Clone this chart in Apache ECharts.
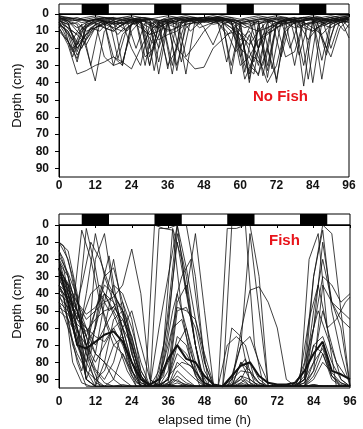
<!DOCTYPE html>
<html>
<head>
<meta charset="utf-8">
<script src="https://cdn.jsdelivr.net/npm/echarts@6/dist/echarts.min.js"></script>
<style>
  html, body { margin: 0; padding: 0; background: #fff; }
  #chart { width: 363px; height: 429px; }
</style>
</head>
<body>
<div id="chart"></div>
<script>
// sampling times (h)
const hoursA = [0,3,6,9,12,15,18,21,24,27,30,33,36,39,42,45,48,51,54,57,60,63,66,69,72,75,78,81,84,87,90,93,96]
const hoursB = [0,1.5,4.5,7.5,10.5,13.5,16.5,19.5,22.5,25.5,28.5,31.5,34.5,37.5,40.5,43.5,46.5,49.5,52.5,55.5,58.5,61.5,64.5,67.5,70.5,73.5,76.5,79.5,82.5,85.5,88.5,91.5,94.5,96]

// dark periods (h)
const nights = [[7.5,16.5],[31.5,40.5],[55.5,64.5],[79.5,88.5]]

const xTicks = [0,12,24,36,48,60,72,84,96]
const yTicks = [0,10,20,30,40,50,60,70,80,90]

// depth (cm) per individual, no fish
const noFishA = [
  [2,5,22,8,3,2,4,6,3,2,3,20,5,3,2,4,3,2,3,6,4,38,6,3,5,4,3,2,40,5,3,2,1],
  [5,12,28,6,4,3,2,30,5,3,6,4,32,4,3,2,4,3,2,35,5,4,3,3,40,4,3,2,3,27,4,3,2],
  [8,18,35,33,30,28,25,28,32,20,10,5,4,6,3,2,5,4,3,4,30,25,36,5,3,4,30,3,2,4,3,2,8],
  [3,4,6,20,39,10,5,3,2,4,30,6,3,2,4,3,2,3,4,3,5,6,4,37,6,3,4,4,3,2,20,4,3],
  [1,3,2,4,3,5,25,30,6,4,3,35,6,4,2,3,2,1,2,4,20,8,4,30,5,3,2,42,4,3,5,4,2],
  [4,6,18,5,3,4,3,4,3,3,25,8,30,20,26,32,31,20,15,10,5,4,3,2,3,4,3,2,3,4,2,3,2],
  [2,3,4,3,2,3,2,3,2,4,3,4,3,2,25,18,10,5,3,2,5,8,10,4,3,2,4,3,2,3,4,2,14],
  [6,10,24,15,8,5,30,12,6,4,5,28,4,33,5,3,4,3,2,6,12,30,35,20,38,10,5,4,3,3,2,4,3],
  [3,2,3,4,3,2,3,2,3,2,3,4,2,3,2,3,2,3,2,3,4,3,2,3,2,3,2,3,2,3,2,1,1],
  [10,16,26,8,5,25,30,28,10,4,3,6,5,30,8,4,3,2,3,4,6,40,8,33,6,25,22,4,3,38,6,4,5],
  [2,4,8,5,3,4,6,5,4,3,20,4,5,3,4,3,2,3,4,30,6,4,20,5,4,3,5,30,4,6,3,2,2],
  [5,8,12,18,8,6,4,5,20,30,6,8,5,4,3,2,8,18,6,4,25,12,30,8,5,4,3,2,3,14,25,8,3],
  [1,2,3,2,1,2,3,2,1,2,3,2,1,2,1,2,3,2,1,2,3,2,1,2,1,2,3,2,1,2,1,2,1],
  [4,6,5,10,8,5,4,6,3,5,30,5,4,6,35,4,3,5,4,3,8,35,6,4,8,5,4,6,5,4,3,5,4],
  [3,5,20,12,6,8,10,6,4,3,4,8,5,20,4,3,2,4,3,5,10,15,25,40,30,8,5,4,3,5,4,3,2],
  [4,8,12,6,5,8,10,6,5,8,12,6,10,8,6,5,4,6,5,8,12,18,10,8,6,5,8,6,10,6,8,5,4],
  [6,10,20,12,8,6,8,10,6,5,8,15,12,10,6,5,4,3,5,10,20,25,15,12,8,6,4,5,8,12,6,4,3],
  [2,4,10,15,6,4,8,4,3,5,12,10,6,8,4,3,2,3,4,8,15,10,20,10,6,4,3,8,10,6,4,3,2]
]
const noFishB = [
  [3,6,25,10,5,4,3,26,8,4,3,33,5,3,28,4,5,3,2,3,5,30,35,6,32,5,3,24,6,3,6,4,3,2],
  [5,8,15,6,30,5,4,8,5,4,30,4,6,35,4,3,2,3,4,28,6,34,4,36,8,4,5,3,38,5,24,4,10,6],
  [2,3,4,3,4,3,2,3,4,3,2,3,4,3,2,3,4,3,2,3,4,3,5,4,3,2,3,4,3,2,3,4,3,2],
  [6,10,22,8,6,4,5,6,4,20,5,8,6,30,5,4,6,2,5,12,10,38,25,30,6,4,20,4,6,5,20,6,4,3],
  [1,2,3,5,4,3,6,4,3,5,4,6,3,4,5,3,8,6,4,3,5,8,6,5,4,6,3,8,5,4,6,3,4,2],
  [8,12,20,15,8,10,4,6,10,3,25,20,4,6,3,10,5,4,3,5,4,6,4,3,4,25,5,4,3,5,3,4,3,2],
  [3,5,12,20,8,5,6,12,6,4,10,18,8,10,5,4,3,4,5,10,22,15,28,12,10,6,5,6,15,8,6,4,3,2]
]

// depth (cm) per individual, fish present
const fishA = [
  [10,15,40,75,92,94,94,93,94,94,94,94,93,94,94,94,94,93,94,94,94,93,94,94,94,94,94,94,93,94,94,94,94],
  [25,35,50,70,60,40,45,60,80,92,94,93,90,70,75,85,93,94,94,93,88,90,94,94,94,94,93,90,70,65,80,90,94],
  [30,45,60,85,94,80,55,50,65,88,94,94,92,50,48,60,85,94,94,94,80,85,92,94,94,94,94,92,85,70,88,93,94],
  [20,50,70,40,5,30,45,60,80,94,94,93,60,5,30,70,94,94,94,94,94,94,94,94,94,94,94,90,50,20,45,60,94],
  [35,40,55,2,25,55,70,75,88,94,94,94,93,94,93,94,94,94,94,94,93,94,94,94,94,94,94,94,93,94,94,94,94],
  [40,45,70,85,20,5,40,60,70,90,94,94,94,88,92,94,94,94,94,93,90,94,94,94,94,94,94,94,94,94,94,94,94],
  [15,30,65,90,75,45,20,50,75,90,94,94,94,94,94,94,94,94,94,94,94,94,94,94,94,94,94,94,94,94,94,94,94],
  [30,38,45,55,50,45,42,35,14,40,90,94,94,94,94,94,94,94,94,94,94,94,94,94,94,94,94,94,94,94,94,94,94],
  [45,50,60,75,85,92,94,94,94,94,94,2,2,0,40,70,94,94,94,94,94,94,94,94,94,94,94,94,94,94,94,94,94],
  [50,55,80,94,94,94,94,94,94,94,94,60,30,0,25,55,80,94,94,0,0,0,30,94,94,94,94,94,94,94,94,94,94],
  [28,35,60,80,90,94,94,94,94,94,94,85,55,10,40,5,50,94,94,94,94,94,94,94,94,94,94,94,94,94,94,94,94],
  [20,40,55,60,65,68,60,70,85,92,94,92,80,70,60,80,92,94,94,88,70,65,80,92,94,94,94,88,60,30,35,45,40],
  [38,42,50,65,50,35,40,50,75,90,93,90,70,48,50,55,75,93,94,92,62,38,36,45,60,90,94,94,85,35,45,50,55],
  [45,60,75,85,90,85,70,65,85,94,94,94,85,40,60,85,94,94,94,90,70,5,50,94,94,94,94,80,30,3,50,75,94],
  [35,50,70,80,60,30,25,45,70,88,94,94,90,45,35,70,92,94,94,94,80,90,94,94,94,94,94,94,60,10,45,55,60],
  [40,55,65,90,94,94,90,75,85,94,94,94,94,80,85,90,94,94,94,94,94,94,94,94,94,94,94,94,80,50,70,90,94],
  [10,20,45,60,75,80,90,94,94,94,94,94,94,90,94,94,94,94,94,94,92,94,94,94,94,94,94,94,94,94,94,94,94],
  [30,35,60,90,94,60,35,40,55,85,94,94,50,0,0,30,80,94,94,94,94,94,94,94,94,94,94,90,30,0,5,50,94],
  [22,30,50,70,80,70,60,55,65,85,94,94,90,75,80,85,92,94,94,90,85,86,92,94,94,94,94,90,80,72,88,92,94],
  [18,28,42,90,94,94,94,94,94,94,94,94,94,94,94,94,94,94,94,60,65,92,94,94,94,94,94,94,94,94,94,94,94],
  [48,52,62,70,84,90,80,60,50,70,90,94,94,92,94,94,94,94,94,94,88,94,94,94,94,94,94,92,70,75,88,94,94],
  [32,40,55,65,75,80,85,90,94,94,94,94,94,94,94,94,94,94,94,94,94,94,94,94,94,94,94,94,94,94,94,94,94],
  [42,48,58,62,55,50,48,55,70,88,94,94,94,94,94,94,94,94,94,94,94,94,94,94,94,94,94,94,90,80,86,92,94],
  [26,34,45,52,48,40,52,65,80,94,94,94,94,85,90,94,94,94,94,94,94,94,94,94,94,94,94,94,94,94,94,94,94],
  [36,44,52,60,70,60,50,45,60,80,94,94,90,65,70,88,94,94,94,94,90,80,90,94,94,94,94,94,88,75,90,94,94]
]
const fishB = [
  [15,20,40,60,80,94,94,94,94,94,94,0,2,3,50,80,94,94,94,94,94,94,94,94,94,94,94,94,94,94,94,94,94,94],
  [30,32,50,3,20,45,60,70,85,94,94,94,94,94,94,94,94,94,94,2,2,0,70,94,94,94,94,94,94,94,94,94,94,94],
  [20,25,55,35,10,20,35,45,60,85,94,94,70,2,20,55,85,94,94,94,94,94,94,94,94,94,94,94,20,5,60,94,94,94],
  [40,42,70,85,60,40,50,45,55,80,94,94,92,85,80,82,90,94,94,70,65,70,90,94,94,94,94,88,55,35,60,55,45,42],
  [35,40,80,92,94,94,94,94,94,94,94,94,94,90,92,94,94,94,94,94,94,94,94,94,94,94,94,94,94,94,94,94,94,94],
  [10,12,30,55,75,40,18,50,80,94,94,94,80,50,30,20,60,94,94,94,94,90,94,94,94,94,94,94,94,94,94,94,94,94],
  [28,30,45,55,40,35,45,55,75,92,94,94,88,60,55,75,90,94,94,94,85,78,92,94,94,94,94,92,70,50,65,80,88,90]
]
// bold trace
const fishMean = [25,45,70,72,68,64,62,68,80,90,93,90,78,70,78,80,88,93,94,88,82,80,88,92,93,93,92,85,75,68,85,87,90]

function traces(list, hours, ax, width) {
  return list.map(arr => ({
    type: 'line',
    xAxisIndex: ax,
    yAxisIndex: ax,
    data: hours.map((h, i) => [h, arr[i]]),
    symbol: 'none',
    silent: true,
    lineStyle: { width: width, color: '#111' }
  }))
}

function nightBar(ax) {
  return {
    type: 'custom',
    xAxisIndex: ax,
    yAxisIndex: ax,
    silent: true,
    data: nights,
    renderItem(params, api) {
      const s = api.coord([api.value(0), 1])
      const e = api.coord([api.value(1), 0])
      return {
        type: 'rect',
        shape: { x: s[0], y: s[1], width: e[0] - s[0], height: e[1] - s[1] },
        style: { fill: '#000' }
      }
    }
  }
}

const labelFont = { color: '#111', fontSize: 12, fontWeight: 'bold', fontFamily: 'Liberation Sans, Arial, sans-serif' }

function plotX(idx, margin, name) {
  return {
    gridIndex: idx, type: 'value', min: 0, max: 96, interval: 12,
    axisLine: { lineStyle: { color: '#000' } },
    axisTick: { length: 3, lineStyle: { color: '#000' } },
    axisLabel: Object.assign({ margin: margin }, labelFont),
    splitLine: { show: false },
    name: name, nameLocation: 'middle', nameGap: 26,
    nameTextStyle: { color: '#111', fontSize: 13, fontFamily: 'Liberation Sans, Arial, sans-serif' }
  }
}
function plotY(idx) {
  return {
    gridIndex: idx, type: 'value', min: 0, max: 95, inverse: true,
    axisLine: { lineStyle: { color: '#000' } },
    axisTick: { length: 4, customValues: yTicks, lineStyle: { color: '#000' } },
    axisLabel: Object.assign({ margin: 10, customValues: yTicks }, labelFont),
    splitLine: { show: false },
    name: 'Depth (cm)', nameLocation: 'middle', nameGap: 35,
    nameTextStyle: { color: '#111', fontSize: 13, fontFamily: 'Liberation Sans, Arial, sans-serif' }
  }
}
const hidden = { show: false }

const chart = echarts.init(document.getElementById('chart'), null, { renderer: 'canvas' })
chart.setOption({
  animation: false,
  backgroundColor: '#fff',
  grid: [
    { left: 59, right: 14, top: 4, height: 10, show: true, borderColor: '#000', borderWidth: 1, backgroundColor: '#fff' },
    { left: 59, right: 14, top: 14, height: 163, show: true, borderColor: '#000', borderWidth: 1 },
    { left: 59, right: 13, top: 214, height: 11, show: true, borderColor: '#000', borderWidth: 1, backgroundColor: '#fff' },
    { left: 59, right: 13, top: 225, height: 163, show: true, borderColor: '#000', borderWidth: 1 }
  ],
  xAxis: [
    Object.assign({ gridIndex: 0, type: 'value', min: 0, max: 96 }, hidden),
    plotX(1, 3, ''),
    Object.assign({ gridIndex: 2, type: 'value', min: 0, max: 96 }, hidden),
    plotX(3, 8, 'elapsed time (h)')
  ],
  yAxis: [
    Object.assign({ gridIndex: 0, type: 'value', min: 0, max: 1 }, hidden),
    plotY(1),
    Object.assign({ gridIndex: 2, type: 'value', min: 0, max: 1 }, hidden),
    plotY(3)
  ],
  graphic: [
    { type: 'text', left: 253, top: 89, style: { text: 'No Fish', fill: '#e8141b', font: 'bold 15px Liberation Sans, Arial, sans-serif' } },
    { type: 'text', left: 269, top: 233, style: { text: 'Fish', fill: '#e8141b', font: 'bold 15px Liberation Sans, Arial, sans-serif' } }
  ],
  series: [
    nightBar(0),
    nightBar(2),
    ...traces(noFishA, hoursA, 1, 0.8),
    ...traces(noFishB, hoursB, 1, 0.8),
    ...traces(fishA, hoursA, 3, 0.8),
    ...traces(fishB, hoursB, 3, 0.8),
    ...traces([fishMean], hoursA, 3, 2)
  ]
})
</script>
</body>
</html>
